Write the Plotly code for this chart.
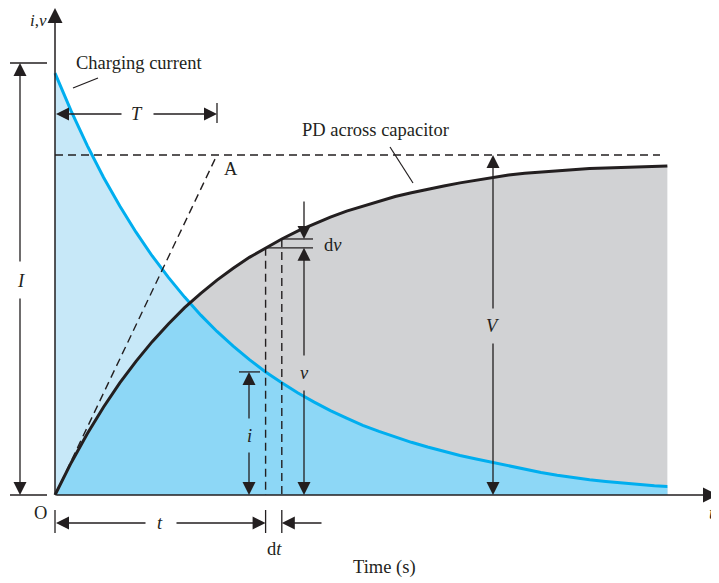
import numpy as np
import plotly.graph_objects as go

# ---- data (time in units of T, values in units of V) ----
t_vals = [0.0, 0.1, 0.2, 0.3, 0.4, 0.5, 0.6, 0.7, 0.8, 0.9,
          1.0, 1.1, 1.2, 1.3, 1.4, 1.5, 1.6, 1.7, 1.8, 1.9,
          2.0, 2.1, 2.2, 2.3, 2.4, 2.5, 2.6, 2.7, 2.8, 2.9,
          3.0, 3.1, 3.2, 3.3, 3.4, 3.5, 3.6, 3.7, 3.78]
pd_vals = [0.0, 0.095, 0.181, 0.259, 0.330, 0.393, 0.451, 0.503, 0.551, 0.593,
           0.632, 0.667, 0.699, 0.727, 0.753, 0.777, 0.798, 0.817, 0.835, 0.850,
           0.865, 0.878, 0.889, 0.900, 0.909, 0.918, 0.926, 0.935, 0.941, 0.946,
           0.950, 0.954, 0.957, 0.960, 0.962, 0.964, 0.966, 0.967, 0.968]
current_vals = [1.241, 1.129, 1.027, 0.934, 0.850, 0.773, 0.703, 0.640, 0.582, 0.529,
                0.481, 0.438, 0.398, 0.362, 0.330, 0.300, 0.273, 0.248, 0.226, 0.205,
                0.187, 0.170, 0.155, 0.141, 0.128, 0.116, 0.106, 0.096, 0.085, 0.075,
                0.066, 0.058, 0.051, 0.045, 0.040, 0.035, 0.031, 0.027, 0.025]
V_final = 1.0
T_const = 1.0
dt_index = 13  # sample where the dt strip is drawn

# ---- window pixel -> data mapping ----
WIN_W, WIN_H = 719, 583
OFF = 8                      # default page margin around the figure
W, H = WIN_W - OFF, WIN_H - OFF
X0, SX = 55.0, 162.0
Y0, SY = 495.0, 340.0
def X(p): return (p - X0) / SX
def Y(p): return (Y0 - p) / SY

INK = "#231f20"
CYAN = "#00aeef"
LIGHT = "#c7e8f8"
DARK = "#8dd7f6"
GREY = "#d1d2d4"
FONT = "Liberation Serif"
FS = 18.5

t = np.array(t_vals)
v = np.array(pd_vals)
i = np.array(current_vals)

# overlap (under both curves) with crossing point inserted
diff = i - v
k = int(np.where(np.diff(np.sign(diff)) != 0)[0][0])
frac = diff[k] / (diff[k] - diff[k + 1])
tc = t[k] + frac * (t[k + 1] - t[k])
vc = v[k] + frac * (v[k + 1] - v[k])
mt = np.concatenate([t[:k + 1], [tc], t[k + 1:]])
mv = np.concatenate([np.minimum(i, v)[:k + 1], [vc], np.minimum(i, v)[k + 1:]])

fig = go.Figure()
fig.add_trace(go.Scatter(x=t, y=i, mode="lines", line=dict(width=0), fill="tozeroy",
                         fillcolor=LIGHT, hoverinfo="skip", showlegend=False))
fig.add_trace(go.Scatter(x=t, y=v, mode="lines", line=dict(width=0), fill="tozeroy",
                         fillcolor=GREY, hoverinfo="skip", showlegend=False))
fig.add_trace(go.Scatter(x=mt, y=mv, mode="lines", line=dict(width=0), fill="tozeroy",
                         fillcolor=DARK, hoverinfo="skip", showlegend=False))

shapes = []
def segd(x1, y1, x2, y2, dash=None, w=1.3):
    ln = dict(color=INK, width=w)
    if dash:
        ln["dash"] = dash
    shapes.append(dict(type="line", xref="x", yref="y", x0=x1, y0=y1, x1=x2, y1=y2, line=ln))
def seg(x1, y1, x2, y2, dash=None, w=1.3):
    segd(X(x1), Y(y1), X(x2), Y(y2), dash=dash, w=w)

DASH = "8px,5px"
DW = 1.4
# asymptote and initial tangent
segd(0, V_final, X(660), V_final, dash=DASH, w=DW)
segd(0, 0, T_const, V_final, dash=DASH, w=DW)

# dt strip
ta, tb = t[dt_index], t[dt_index + 1]
va, vb = v[dt_index], v[dt_index + 1]
segd(ta, va, ta, 0, dash=DASH, w=DW)
segd(tb, vb, tb, 0, dash=DASH, w=DW)
segd(ta, va, X(313), va)
segd(tb, vb, X(313), vb)

# dimension ticks
seg(10, 63, 47, 63)
seg(10, 495, 47, 495)
segd(T_const, Y(103), T_const, Y(123))
segd(X(239), i[dt_index], X(260), i[dt_index])
seg(55, 510, 55, 533)
segd(ta, Y(510), ta, Y(533))
segd(tb, Y(510), tb, Y(533))
# pointer lines
seg(73, 88, 98, 78, w=1.2)
seg(390, 147, 413, 183, w=1.2)

# curves
fig.add_trace(go.Scatter(x=t, y=i, mode="lines", line=dict(color=CYAN, width=3),
                         hoverinfo="skip", showlegend=False))
fig.add_trace(go.Scatter(x=t, y=v, mode="lines", line=dict(color=INK, width=3),
                         hoverinfo="skip", showlegend=False))

annotations = []
def arrow(hx, hy, tx, ty, w=1.3):
    annotations.append(dict(x=hx, y=hy, ax=tx, ay=ty, xref="x", yref="y", axref="x", ayref="y",
                            showarrow=True, arrowhead=2, arrowsize=2.0, arrowwidth=w,
                            arrowcolor=INK, standoff=0, startstandoff=0, text=""))
def label(x, y, s, size=FS, xanchor="center", yanchor="middle"):
    annotations.append(dict(x=x, y=y, xref="x", yref="y", text=s, showarrow=False,
                            font=dict(family=FONT, size=size, color=INK), xanchor=xanchor,
                            yanchor=yanchor))

# axes
arrow(0, Y(8), 0, 0, w=1.5)
arrow(X(718), 0, 0, 0, w=1.5)
# I
arrow(X(20), Y(63), X(20), Y(263))
arrow(X(20), 0, X(20), Y(297))
# T
arrow(X(56), Y(114), X(123), Y(114))
arrow(T_const, Y(114), X(152), Y(114))
# t
arrow(X(56), Y(523), X(147), Y(523))
arrow(ta, Y(523), X(175), Y(523))
# dt
arrow(tb, Y(523), X(323), Y(523))
# dv
arrow(X(304), vb, X(304), Y(200))
# v
arrow(X(304), va, X(304), Y(357))
arrow(X(304), 0, X(304), Y(389))
# V
arrow(X(493), V_final, X(493), Y(310))
arrow(X(493), 0, X(493), Y(342))
# i
arrow(X(249), i[dt_index], X(249), Y(420))
arrow(X(249), 0, X(249), Y(451))

label(X(38), Y(9), "<i>i</i>,<i>v</i>", size=17, yanchor="top")
label(X(139), Y(63), "Charging current")
label(X(137), Y(114), "<i>T</i>")
label(X(231), Y(169), "A")
label(X(375), Y(130), "PD across capacitor")
label(X(322), Y(245), "d<i>v</i>", xanchor="left")
label(X(21), Y(281), "<i>I</i>")
label(X(493), Y(326), "<i>V</i>")
label(X(304), Y(373), "<i>v</i>")
label(X(249), Y(436), "<i>i</i>")
label(X(40), Y(513), "O")
label(X(160), Y(523), "<i>t</i>")
label(X(274), Y(549), "d<i>t</i>")
label(X(384), Y(567), "Time (s)")
label(X(717), Y(513), "<i>t</i>", xanchor="right")

fig.update_layout(
    width=W, height=H,
    margin=dict(l=0, r=0, t=0, b=0, pad=0),
    paper_bgcolor="white", plot_bgcolor="white",
    xaxis=dict(range=[X(OFF), X(WIN_W)], visible=False, fixedrange=True),
    yaxis=dict(range=[Y(WIN_H), Y(OFF)], visible=False, fixedrange=True),
    shapes=shapes, annotations=annotations, showlegend=False,
)
fig.write_html("out.html")
